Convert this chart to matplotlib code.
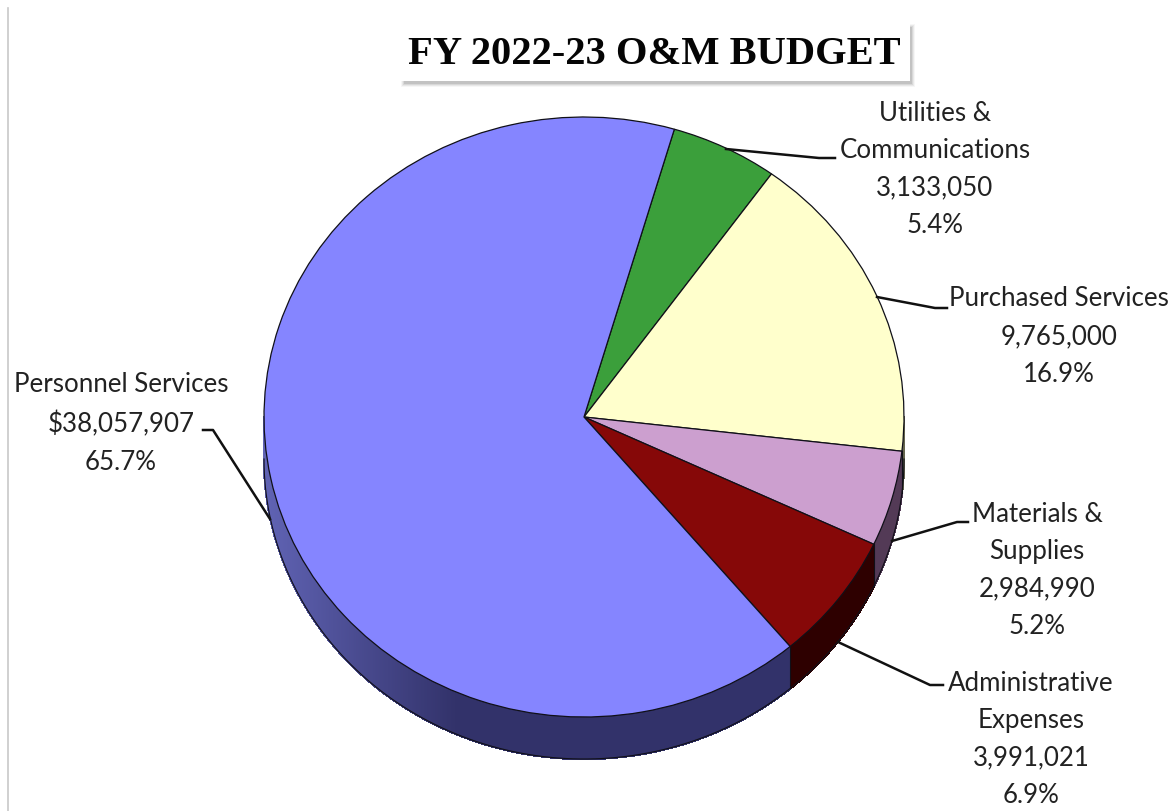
import numpy as np
import matplotlib
matplotlib.use("Agg")
import matplotlib.pyplot as plt
from matplotlib.patches import Rectangle
from matplotlib.collections import PolyCollection

# Budget lines, clockwise from the top of the pie
categories = ["Utilities &\nCommunications", "Purchased Services", "Materials &\nSupplies",
              "Administrative\nExpenses", "Personnel Services"]
amounts = [3133050, 9765000, 2984990, 3991021, 38057907]
shares = ["5.4%", "16.9%", "5.2%", "6.9%", "65.7%"]
amount_prefix = ["", "", "", "", "$"]

top_colors = ["#3B9F3B", "#FFFFCC", "#CC9FCF", "#860808", "#8585FF"]
wall_colors = ["#1E4F1E", "#66664F", "#533A56", "#2E0000", "#32326A"]

W, H = 1173, 812
CX, CY, RX, RY, DEPTH = 584, 418, 320, 300, 42
START_FROM_TOP = 16.4

fig = plt.figure(figsize=(W / 100, H / 100), dpi=100, facecolor="white")
ax = fig.add_axes([0, 0, 1, 1])
ax.pie(amounts, colors=top_colors, startangle=90 - START_FROM_TOP, counterclock=False,
       radius=1, wedgeprops=dict(edgecolor="#101018", linewidth=0.9), normalize=True)
ax.set_aspect("auto")
ax.set_xlim(-CX / RX, (W - CX) / RX)
ax.set_ylim(-(H - CY) / RY, CY / RY)
ax.axis("off")

# Extruded rim of the pie: one thin quad per angular step, lower half only
fractions = np.array(amounts) / np.sum(amounts)
edges = START_FROM_TOP + 360 * np.concatenate([[0], np.cumsum(fractions)])
depth = DEPTH / RY
polys, fills = [], []
for i in range(len(amounts)):
    a0, a1 = max(edges[i], 90), min(edges[i + 1], 270)
    if a1 <= a0:
        continue
    steps = np.linspace(a0, a1, max(int((a1 - a0) * 4), 2))
    for s0, s1 in zip(steps[:-1], steps[1:]):
        x0, y0 = np.sin(np.radians(s0)), np.cos(np.radians(s0))
        x1, y1 = np.sin(np.radians(s1)), np.cos(np.radians(s1))
        polys.append([(x0, y0), (x1, y1), (x1, y1 - depth), (x0, y0 - depth)])
        base = np.array(matplotlib.colors.to_rgb(wall_colors[i]))
        if i == len(amounts) - 1:
            # the rim catches light towards the left-hand edge
            t = np.clip((-0.40 - x0) / 0.60, 0, 1)
            base = base + (np.array(matplotlib.colors.to_rgb("#6063B4")) - base) * t
        fills.append(base)
ax.add_collection(PolyCollection(polys, facecolors=fills, edgecolors=fills, linewidths=1.0,
                                 antialiased=False, zorder=0))

# Rim outline and the vertical seams between slices
rim = np.radians(np.linspace(90, 270, 400))
ax.plot(np.sin(rim), np.cos(rim) - depth, color="#101018", lw=0.8, zorder=0.5)
for e in edges:
    if 90 <= e <= 270:
        x, y = np.sin(np.radians(e)), np.cos(np.radians(e))
        ax.plot([x, x], [y, y - depth], color="#101018", lw=0.8, zorder=0.5)

# Overlay in pixel coordinates for the annotations
ov = fig.add_axes([0, 0, 1, 1])
ov.set_xlim(0, W)
ov.set_ylim(H, 0)
ov.axis("off")
ov.patch.set_alpha(0)

ov.plot([7.5, 7.5], [9, H], color="#C8C8C8", lw=1.2)

# Title plate with a soft drop shadow
for grow, alpha in zip([3, 2, 1, 0], [0.06, 0.10, 0.14, 0.20]):
    ov.add_patch(Rectangle((404 - grow, 28 - grow), 508 + 2 * grow, 57 + 2 * grow,
                           facecolor="#707070", edgecolor="none", alpha=alpha, zorder=2))
ov.add_patch(Rectangle((398, 22), 512, 60, facecolor="white", edgecolor="none", zorder=3))
ov.text(654, 55, "FY 2022-23 O&M BUDGET", family="Liberation Serif", weight="bold",
        fontsize=29.2, ha="center", va="center", color="#050505", zorder=4)

# Slice captions and their leader lines
label_xy = [(935, 169.5), (1059, 336.5), (1037, 570.5), (1031, 739.5), (121, 423.5)]
leaders = [
    [(726, 150), (819, 159), (835, 159)],
    [(877, 298), (935, 309), (947, 309)],
    [(892, 542), (957, 523), (968, 523)],
    [(838, 643), (930, 686), (943, 686)],
    [(270, 520), (213, 431), (203, 431)],
]
for cat, amt, pre, sh, (tx, ty), pts in zip(categories, amounts, amount_prefix, shares, label_xy, leaders):
    ov.text(tx, ty, f"{cat}\n{pre}{amt:,}\n{sh}", family="Lato", fontsize=18.6, color="#222222",
            ha="center", va="center", linespacing=1.63, zorder=5)
    xs, ys = zip(*pts)
    ov.plot(xs, ys, color="#111111", lw=1.8, zorder=5, solid_joinstyle="round")

fig.savefig("out.png", dpi=100)
